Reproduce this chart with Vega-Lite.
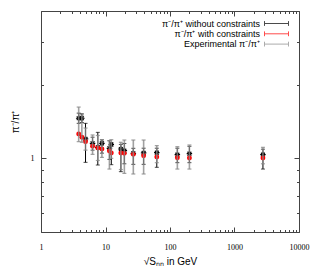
{
  "$schema": "https://vega.github.io/schema/vega-lite/v6.json",
  "width": 258,
  "height": 221,
  "autosize": {"type": "none"},
  "padding": {"left": 41, "top": 11, "right": 21, "bottom": 48},
  "background": "white",
  "datasets": {
    "pts": [
      {"e": 3.84, "s": "W", "v": 1.458, "lo": 1.39, "hi": 1.53},
      {"e": 4.3, "s": "W", "v": 1.458, "lo": 1.40, "hi": 1.52},
      {"e": 4.9, "s": "W", "v": 1.20, "lo": 0.963, "hi": 1.39},
      {"e": 6.3, "s": "W", "v": 1.152, "lo": 1.08, "hi": 1.22},
      {"e": 7.6, "s": "W", "v": 1.109, "lo": 0.939, "hi": 1.277},
      {"e": 8.8, "s": "W", "v": 1.152, "lo": 1.05, "hi": 1.19},
      {"e": 11.5, "s": "W", "v": 1.099, "lo": 0.99, "hi": 1.18},
      {"e": 12.3, "s": "W", "v": 1.137, "lo": 0.942, "hi": 1.16},
      {"e": 17.3, "s": "W", "v": 1.092, "lo": 0.882, "hi": 1.14},
      {"e": 19.6, "s": "W", "v": 1.075, "lo": 0.95, "hi": 1.15},
      {"e": 27, "s": "W", "v": 1.048, "lo": 0.945, "hi": 1.099},
      {"e": 39, "s": "W", "v": 1.052, "lo": 0.945, "hi": 1.10},
      {"e": 62.4, "s": "W", "v": 1.055, "lo": 0.919, "hi": 1.10},
      {"e": 130, "s": "W", "v": 1.035, "lo": 0.96, "hi": 1.10},
      {"e": 200, "s": "W", "v": 1.045, "lo": 0.96, "hi": 1.12},
      {"e": 2760, "s": "W", "v": 1.035, "lo": 0.904, "hi": 1.09},
      {"e": 3.84, "s": "C", "v": 1.257, "lo": 1.257, "hi": 1.257},
      {"e": 4.3, "s": "C", "v": 1.219, "lo": 1.219, "hi": 1.219},
      {"e": 4.9, "s": "C", "v": 1.170, "lo": 1.170, "hi": 1.170},
      {"e": 6.3, "s": "C", "v": 1.120, "lo": 1.120, "hi": 1.120},
      {"e": 7.6, "s": "C", "v": 1.102, "lo": 1.102, "hi": 1.102},
      {"e": 8.8, "s": "C", "v": 1.092, "lo": 1.092, "hi": 1.092},
      {"e": 11.5, "s": "C", "v": 1.072, "lo": 1.072, "hi": 1.072},
      {"e": 12.3, "s": "C", "v": 1.052, "lo": 1.052, "hi": 1.052},
      {"e": 17.3, "s": "C", "v": 1.052, "lo": 1.052, "hi": 1.052},
      {"e": 19.6, "s": "C", "v": 1.048, "lo": 1.048, "hi": 1.048},
      {"e": 27, "s": "C", "v": 1.038, "lo": 1.038, "hi": 1.038},
      {"e": 39, "s": "C", "v": 1.025, "lo": 1.025, "hi": 1.025},
      {"e": 62.4, "s": "C", "v": 1.013, "lo": 1.013, "hi": 1.013},
      {"e": 130, "s": "C", "v": 1.006, "lo": 1.006, "hi": 1.006},
      {"e": 200, "s": "C", "v": 1.003, "lo": 1.003, "hi": 1.003},
      {"e": 2760, "s": "C", "v": 1.003, "lo": 1.003, "hi": 1.003},
      {"e": 3.84, "s": "X", "v": 1.46, "lo": 1.17, "hi": 1.62},
      {"e": 4.3, "s": "X", "v": 1.46, "lo": 1.163, "hi": 1.504},
      {"e": 4.9, "s": "X", "v": 1.20, "lo": 1.08, "hi": 1.33},
      {"e": 6.3, "s": "X", "v": 1.152, "lo": 1.038, "hi": 1.246},
      {"e": 7.6, "s": "X", "v": 1.109, "lo": 0.98, "hi": 1.24},
      {"e": 8.8, "s": "X", "v": 1.152, "lo": 1.009, "hi": 1.192},
      {"e": 11.5, "s": "X", "v": 1.099, "lo": 0.904, "hi": 1.181},
      {"e": 12.3, "s": "X", "v": 1.137, "lo": 1.0, "hi": 1.192},
      {"e": 17.3, "s": "X", "v": 1.092, "lo": 0.90, "hi": 1.163},
      {"e": 19.6, "s": "X", "v": 1.075, "lo": 0.868, "hi": 1.188},
      {"e": 27, "s": "X", "v": 1.048, "lo": 0.863, "hi": 1.188},
      {"e": 39, "s": "X", "v": 1.052, "lo": 0.863, "hi": 1.188},
      {"e": 62.4, "s": "X", "v": 1.055, "lo": 0.96, "hi": 1.127},
      {"e": 130, "s": "X", "v": 1.035, "lo": 0.904, "hi": 1.116},
      {"e": 200, "s": "X", "v": 1.045, "lo": 0.904, "hi": 1.134},
      {"e": 2760, "s": "X", "v": 1.035, "lo": 0.95, "hi": 1.109}
    ],
    "names": [
      {"s": "W", "name": "π⁻/π⁺ without constraints"},
      {"s": "C", "name": "π⁻/π⁺ with constraints"},
      {"s": "X", "name": "Experimental π⁻/π⁺"}
    ]
  },
  "data": {"name": "pts"},
  "transform": [
    {"lookup": "s", "from": {"data": {"name": "names"}, "key": "s", "fields": ["name"]}}
  ],
  "resolve": {"axis": {"x": "independent", "y": "independent"}},
  "layer": [
    {
      "transform": [{"filter": "datum.s == 'W'"}],
      "mark": {"type": "rule", "strokeWidth": 1},
      "encoding": {
        "x": {
          "field": "e", "type": "quantitative",
          "scale": {"type": "log", "domain": [1, 10000], "nice": false},
          "axis": {
            "orient": "bottom",
            "values": [1,2,3,4,5,6,7,8,9,10,20,30,40,50,60,70,80,90,100,200,300,400,500,600,700,800,900,1000,2000,3000,4000,5000,6000,7000,8000,9000,10000],
            "labelExpr": "(datum.value==1||datum.value==10||datum.value==100||datum.value==1000||datum.value==10000) ? format(datum.value,'d') : ''",
            "tickSize": {"condition": {"test": "datum.value==1||datum.value==10||datum.value==100||datum.value==1000||datum.value==10000", "value": -5}, "value": -2.5},
            "labelPadding": 16,
            "labelFlush": false,
            "labelOverlap": false,
            "title": "√Sₙₙ in GeV",
            "titlePadding": 3
          }
        },
        "y": {
          "field": "lo", "type": "quantitative",
          "scale": {"type": "log", "domain": [0.5, 4], "nice": false},
          "axis": {
            "orient": "left",
            "values": [0.5,0.6,0.7,0.8,0.9,1,2,3,4],
            "labelExpr": "datum.value==1 ? '1' : ''",
            "tickSize": {"condition": {"test": "datum.value==1", "value": -5}, "value": -2.5},
            "labelPadding": 12,
            "labelOverlap": false,
            "title": "π⁻/π⁺",
            "titlePadding": 10
          }
        },
        "y2": {"field": "hi"},
        "color": {
          "field": "name", "type": "nominal",
          "scale": {"domain": ["π⁻/π⁺ without constraints", "π⁻/π⁺ with constraints", "Experimental π⁻/π⁺"], "range": ["#000000", "#ff0000", "#8a8a8a"]},
          "legend": {
            "title": null,
            "orient": "top-right",
            "offset": 8,
            "padding": 0,
            "symbolType": "M-3,0H3M-3,-0.6V0.6M3,-0.6V0.6",
            "symbolSize": 64,
            "symbolStrokeWidth": 1,
            "symbolFillColor": "transparent",
            "labelAlign": "right",
            "labelOffset": -21,
            "labelFont": "Liberation Sans",
            "labelFontSize": 9,
            "labelColor": "#000",
            "labelLimit": 200,
            "rowPadding": 0.3,
            "symbolLimit": 3
          }
        }
      }
    },
    {
      "transform": [{"filter": "datum.s == 'W'"}, {"fold": ["lo", "hi"], "as": ["k", "yy"]}],
      "mark": {"type": "tick", "orient": "horizontal", "size": 4, "thickness": 1},
      "encoding": {
        "x": {"field": "e", "type": "quantitative", "axis": null},
        "y": {"field": "yy", "type": "quantitative", "axis": null},
        "color": {"field": "name", "type": "nominal"}
      }
    },
    {
      "transform": [{"filter": "datum.s == 'W'"}],
      "mark": {"type": "point", "shape": "M-1,0L1,0M0,-1L0,1M-0.7,-0.7L0.7,0.7M-0.7,0.7L0.7,-0.7", "filled": false, "size": 30, "strokeWidth": 1.2, "opacity": 1},
      "encoding": {
        "x": {"field": "e", "type": "quantitative", "axis": null},
        "y": {"field": "v", "type": "quantitative", "axis": null},
        "color": {"field": "name", "type": "nominal"}
      }
    },
    {
      "transform": [{"filter": "datum.s == 'C'"}],
      "mark": {"type": "circle", "size": 24, "opacity": 1},
      "encoding": {
        "x": {"field": "e", "type": "quantitative", "axis": null},
        "y": {"field": "v", "type": "quantitative", "axis": null},
        "color": {"field": "name", "type": "nominal"}
      }
    },
    {
      "transform": [{"filter": "datum.s == 'X'"}],
      "mark": {"type": "rule", "strokeWidth": 1.6, "opacity": 0.8},
      "encoding": {
        "x": {
          "field": "e", "type": "quantitative",
          "axis": {
            "orient": "top", "labels": false, "title": null,
            "values": [1,2,3,4,5,6,7,8,9,10,20,30,40,50,60,70,80,90,100,200,300,400,500,600,700,800,900,1000,2000,3000,4000,5000,6000,7000,8000,9000,10000],
            "tickSize": {"condition": {"test": "datum.value==1||datum.value==10||datum.value==100||datum.value==1000||datum.value==10000", "value": -5}, "value": -2.5}
          }
        },
        "y": {
          "field": "lo", "type": "quantitative",
          "axis": {
            "orient": "right", "labels": false, "title": null,
            "values": [0.5,0.6,0.7,0.8,0.9,1,2,3,4],
            "tickSize": {"condition": {"test": "datum.value==1", "value": -5}, "value": -2.5}
          }
        },
        "y2": {"field": "hi"},
        "color": {"field": "name", "type": "nominal"}
      }
    },
    {
      "transform": [{"filter": "datum.s == 'X'"}, {"fold": ["lo", "hi"], "as": ["k", "yy"]}],
      "mark": {"type": "tick", "orient": "horizontal", "size": 4, "thickness": 1.2, "opacity": 0.8},
      "encoding": {
        "x": {"field": "e", "type": "quantitative", "axis": null},
        "y": {"field": "yy", "type": "quantitative", "axis": null},
        "color": {"field": "name", "type": "nominal"}
      }
    }
  ],
  "config": {
    "view": {"stroke": "#444444", "strokeWidth": 1},
    "axis": {
      "domain": false,
      "grid": false,
      "labelFont": "Liberation Serif",
      "labelFontSize": 8,
      "labelColor": "#000000",
      "tickColor": "#444444",
      "tickWidth": 1,
      "titleFont": "Liberation Sans",
      "titleFontSize": 10,
      "titleFontWeight": "normal",
      "titleColor": "#000000"
    }
  }
}
